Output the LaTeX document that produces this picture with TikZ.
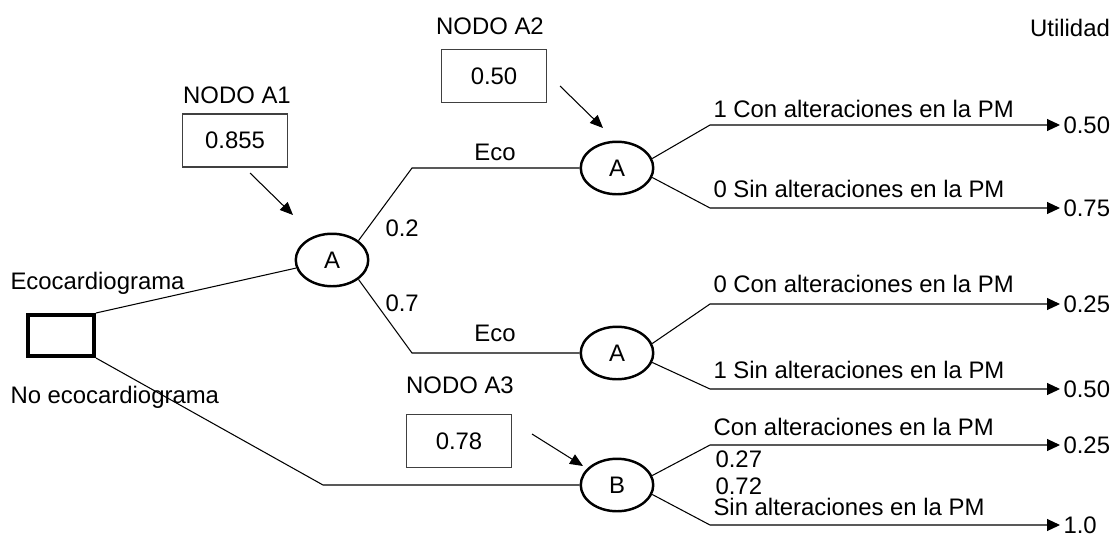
\documentclass[tikz,border=0pt]{standalone}
\usepackage{fontspec}
\setmainfont{Liberation Sans}
\usetikzlibrary{arrows.meta,shapes.geometric}

\begin{document}
\begin{tikzpicture}[x=0.02cm, y=-0.02cm, line width=0.6pt,
    every node/.style={font=\fontsize{13.6}{16}\selectfont},
    chance/.style={ellipse, draw, line width=1.4pt, minimum width=1.45cm, minimum height=1.05cm, inner sep=0pt},
    decision/.style={rectangle, draw, line width=2.3pt, minimum width=1.32cm, minimum height=0.82cm},
    valbox/.style={rectangle, draw=black!75, line width=0.6pt, minimum width=2.1cm, minimum height=1.06cm},
    value/.style={anchor=west, inner sep=0.06cm},
    branch/.style={anchor=base west, inner sep=0pt},
    toval/.style={-{Triangle[length=0.26cm,width=0.24cm]}},
    pointer/.style={-{Triangle[length=0.26cm,width=0.22cm]}}]
  \useasboundingbox (0,0) rectangle (1115,538);

  % decision
  \node[decision] (dec) at (61,335.5) {};
  \node[anchor=west, inner sep=0pt] (eco) at (10,283) {Ecocardiograma};
  \node[anchor=west, inner sep=0pt] (noeco) at (10,397) {No ecocardiograma};

  % chance nodes
  \node[chance] (A1) at (332,260) {A};
  \node[chance] (A2) at (617,168) {A};
  \node[chance] (A3) at (617,353) {A};
  \node[chance] (B) at (617,485) {B};

  \coordinate (e1) at (412,168);
  \coordinate (e2) at (412,353);
  \coordinate (e3) at (323,485);
  \coordinate (k) at (710,0);

  \draw (dec.north east) -- (A1);
  \draw (A1.north east) -- (e1) -- (A2);
  \draw (A1.south east) -- (e2) -- (A3);
  \draw (dec.south east) -- (e3) -- (B);

  \node (eco1) at (495,152) {Eco};
  \node (eco2) at (495,333) {Eco};
  \node[anchor=west, inner sep=0pt] (p02) at (385,228) {0.2};
  \node[anchor=west, inner sep=0pt] (p07) at (385,303) {0.7};

  % utilities
  \node (util) at (1070,28) {Utilidad};
  \node[value] (u1) at (1060,125) {0.50};
  \node[value] (u2) at (1060,208) {0.75};
  \node[value] (u3) at (1060,304) {0.25};
  \node[value] (u4) at (1060,389) {0.50};
  \node[value] (u5) at (1060,445) {0.25};
  \node[value] (u6) at (1060,525) {1.0};

  \draw[toval] (A2.15) -- (u1.west -| k) -- (u1.west);
  \draw[toval] (A2.-15) -- (u2.west -| k) -- (u2.west);
  \draw[toval] (A3.15) -- (u3.west -| k) -- (u3.west);
  \draw[toval] (A3.-15) -- (u4.west -| k) -- (u4.west);
  \draw[toval] (B.15) -- (u5.west -| k) -- (u5.west);
  \draw[toval] (B.-15) -- (u6.west -| k) -- (u6.west);

  \node[branch] (t1) at (713,117) {1 Con alteraciones en la PM};
  \node[branch] (t2) at (713,197) {0 Sin alteraciones en la PM};
  \node[branch] (t3) at (713,292) {0 Con alteraciones en la PM};
  \node[branch] (t4) at (713,378) {1 Sin alteraciones en la PM};
  \node[branch] (t5) at (713,435) {Con alteraciones en la PM};
  \node[branch] (t6) at (713,515) {Sin alteraciones en la PM};
  \node[branch] (p27) at (715,467) {0.27};
  \node[branch] (p72) at (715,494) {0.72};

  % node values
  \node (n1) at (237,95) {NODO A1};
  \node[valbox] (b1) at (235,140.5) {0.855};
  \node (n2) at (490,26) {NODO A2};
  \node[valbox] (b2) at (494,76) {0.50};
  \node (n3) at (460,385) {NODO A3};
  \node[valbox] (b3) at (459,441) {0.78};

  \coordinate (s1) at (250,173);
  \coordinate (s2) at (560,86);
  \coordinate (s3) at (532,434);
  \coordinate (h1) at (293,215);
  \coordinate (h2) at (603,128);
  \coordinate (h3) at (583,466);
  \draw[pointer] (s1) -- (h1);
  \draw[pointer] (s2) -- (h2);
  \draw[pointer] (s3) -- (h3);
\end{tikzpicture}
\end{document}
